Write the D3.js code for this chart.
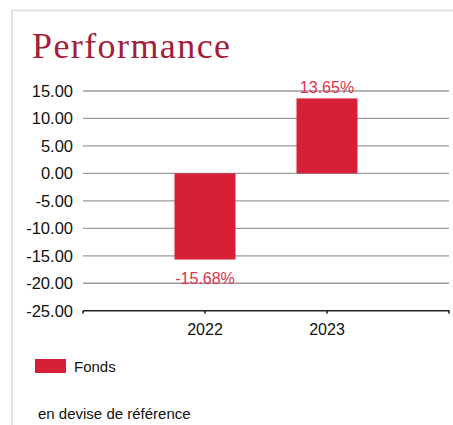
<!DOCTYPE html>
<html><head><meta charset="utf-8">
<script src="https://cdn.jsdelivr.net/npm/d3@7"></script>
<style>html,body{margin:0;padding:0;background:#fff;}svg{display:block;}</style>
</head><body>
<svg id="c" width="453" height="425"></svg>
<script>
const categories = ["2022", "2023"];
const fondsValues = [-15.68, 13.65];
const valueLabels = ["-15.68%", "13.65%"];
const yTicks = [15, 10, 5, 0, -5, -10, -15, -20, -25];
const seriesName = "Fonds";
const titleText = "Performance";
const footnote = "en devise de référence";

const svg = d3.select("#c");
const barColor = "#d72038";
const labelColor = "#e0344c";

// frame
svg.append("path").attr("d", "M12,425 L12,10.5 L453,10.5").attr("fill","none")
  .attr("stroke","#e4e4e4").attr("stroke-width",2);

svg.append("text").attr("x", 32).attr("y", 58).text(titleText)
  .attr("font-family","'Liberation Serif','DejaVu Serif',serif").attr("font-size",36)
  .attr("textLength",198).attr("fill","#a41d3a");

const y = d3.scaleLinear().domain([-25, 15]).range([310.7, 91]);
const x = d3.scaleBand().domain(categories).range([83, 449]).paddingInner(0.5).paddingOuter(0.75);
const fmt = d => d3.format(".2f")(d).replace("\u2212", "-");

// grid
svg.append("g").selectAll("line").data(yTicks.filter(d => d > -25)).join("line")
  .attr("x1", 83).attr("x2", 449).attr("y1", d => y(d)).attr("y2", d => y(d))
  .attr("stroke", "#9a9a9a").attr("stroke-width", 1.3);

// y labels
svg.append("g").selectAll("text").data(yTicks).join("text")
  .attr("x", 73).attr("y", d => y(d)).attr("dy", "0.36em").attr("text-anchor","end")
  .attr("font-family","'Liberation Sans',Arial,sans-serif").attr("font-size",16.5).attr("fill","#111")
  .text(fmt);

// bars
svg.append("g").selectAll("rect").data(fondsValues).join("rect")
  .attr("x", (d,i) => x(categories[i])).attr("width", x.bandwidth())
  .attr("y", d => y(Math.max(0,d))).attr("height", d => Math.abs(y(d) - y(0)))
  .attr("fill", barColor);

// value labels
svg.append("g").selectAll("text").data(fondsValues).join("text")
  .attr("x", (d,i) => x(categories[i]) + x.bandwidth()/2)
  .attr("y", d => d >= 0 ? y(d) - 5 : y(d) + 24)
  .attr("text-anchor","middle")
  .attr("font-family","'Liberation Sans',Arial,sans-serif").attr("font-size",16).attr("fill",labelColor)
  .text((d,i) => valueLabels[i]);

// x axis
const ax = svg.append("g");
ax.append("line").attr("x1", 83).attr("x2", 449.5).attr("y1", y(-25)).attr("y2", y(-25))
  .attr("stroke","#222").attr("stroke-width",1.5);
const tickXs = [83, ...categories.map(c => x(c) + x.bandwidth()/2), 449];
ax.selectAll("line.t").data(tickXs).join("line").attr("class","t")
  .attr("x1", d => d).attr("x2", d => d).attr("y1", y(-25)).attr("y2", y(-25) + 3)
  .attr("stroke","#222").attr("stroke-width",1.5);
ax.selectAll("text").data(categories).join("text")
  .attr("x", c => x(c) + x.bandwidth()/2).attr("y", 335).attr("text-anchor","middle")
  .attr("font-family","'Liberation Sans',Arial,sans-serif").attr("font-size",16).attr("fill","#111")
  .text(c => c);

// legend
svg.append("rect").attr("x", 35).attr("y", 359).attr("width", 31).attr("height", 14).attr("fill", barColor);
svg.append("text").attr("x", 74).attr("y", 371.5).text(seriesName)
  .attr("font-family","'Liberation Sans',Arial,sans-serif").attr("font-size",15).attr("fill","#111");

svg.append("text").attr("x", 38).attr("y", 419).text(footnote)
  .attr("font-family","'Liberation Sans',Arial,sans-serif").attr("font-size",15).attr("fill","#111");
</script>
</body></html>
